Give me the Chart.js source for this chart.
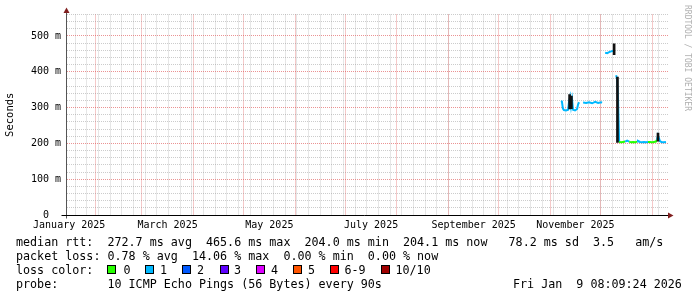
<!DOCTYPE html>
<html><head><meta charset="utf-8">
<script src="https://cdn.jsdelivr.net/npm/chart.js@4/dist/chart.umd.min.js"></script>
<style>
html,body{margin:0;padding:0;background:#fff;}
#wrap{position:relative;width:697px;height:297px;overflow:hidden;background:#fff;}
canvas{position:absolute;left:0;top:0;}
.t{position:absolute;font-family:"DejaVu Sans Mono",monospace;font-size:11.7px;line-height:14px;white-space:pre;color:#000;}
.sw{position:absolute;width:7px;height:7px;border:1px solid #000;top:265px;}
.wm{position:absolute;left:692px;top:5px;font-family:"DejaVu Sans Mono",monospace;font-size:8px;line-height:9px;color:#b0b0b0;transform-origin:0 0;transform:rotate(90deg);white-space:pre;}
</style></head>
<body><div id="wrap"><canvas id="c" width="697" height="297"></canvas>
<div class="t" style="left:16px;top:235px">median rtt:  272.7 ms avg  465.6 ms max  204.0 ms min  204.1 ms now   78.2 ms sd  3.5   am/s</div>
<div class="t" style="left:16px;top:249px">packet loss: 0.78 % avg  14.06 % max  0.00 % min  0.00 % now</div>
<div class="t" style="left:16px;top:263px">loss color:</div>
<div id="lossLegend"></div>
<div class="t" style="left:16px;top:277px">probe:       10 ICMP Echo Pings (56 Bytes) every 90s</div>
<div class="t" style="left:513px;top:277px">Fri Jan  9 08:09:24 2026</div>
<div class="wm">RRDTOOL / TOBI OETIKER</div>
</div>
<script>
// ---- data (x in days since 2025-01-01, y in milliseconds) ----
const medianDay = [310.3,310.9,311.5,312.1,313.4,314.6,315.2,315.8,316.4,317.0,317.6,318.8,320.0,320.6,321.2,322.4,
  323.6,325.4,327.2,329.0,330.8,332.6,334.4,335.0,335.9,
  336.8,338.0,339.2,340.4,341.6,342.2,342.8,
  343.4,344.0,344.6,
  345.2,346.4,347.6,348.8,350.0,351.2,352.4,353.6,354.8,356.0,356.5,357.7,358.9,360.1,361.3,362.5,
  363.7,364.9,366.1,367.3,367.9,368.5,369.1,369.7,370.9,372.1,373.3];
const medianMs = [318,317,297,293,292,294,318,330,304,322,294,292,296,309,315,null,
  314,313,315,312,316,313,315,314,null,
  453,452,455,457,458,462,null,
  390,379,316,
  204,203,204,205,208,205,203,204,203,205,207,204,203,204,203,204,
  204,203,204,205,210,222,214,206,203,203,204];
const lossCount = [1,1,1,1,1,1,1,1,1,1,1,1,1,1,1,1,
  1,1,1,1,1,1,1,1,1,
  1,1,1,1,1,1,1,
  1,1,1,
  0,0,0,1,1,0,0,0,0,1,1,1,1,1,1,0,
  0,0,0,0,1,1,1,1,1,1,1];
const smokeDay  = [315.5,316.6,342.2,344.2,368.5];
const smokeLow  = [296,297,448,203,206];
const smokeHigh = [336,332,478,385,229];

const monthStartDays = [31,59,90,120,151,181,212,243,273,304,334,365];
const labelDays = [15.5,74.5,135.5,196.5,258,319];
const labelNames = ['January 2025','March 2025','May 2025','July 2025','September 2025','November 2025'];
const firstMonday = 19;
const yMajorTicks = [0,100,200,300,400,500];
const yMax = 560, yMinorStep = 20;
const xMin = 14.2, xMax = 374.5;

const lossLevels = ['0','1','2','3','4','5','6-9','10/10'];
const lossColors = ['#26ff00','#00b8ff','#0059ff','#5e00ff','#dd00ff','#ff5500','#ff0000','#a00000'];
function colorForLoss(n){ if(n<=5) return lossColors[n]; if(n<10) return lossColors[6]; return lossColors[7]; }

// legend swatches
const swX = [107,145,182,220,256,293,330,381];
const swLabelX = [123.5,160,197,234,271,308,344.5,395.5];
const lg = document.getElementById('lossLegend');
lossLevels.forEach((lab,i)=>{
  const b=document.createElement('div'); b.className='sw'; b.style.left=swX[i]+'px'; b.style.background=lossColors[i]; lg.appendChild(b);
  const t=document.createElement('div'); t.className='t'; t.style.left=swLabelX[i]+'px'; t.style.top='263px'; t.textContent=lab; lg.appendChild(t);
});

const MONO = 'DejaVu Sans Mono';
const GRID = 'rgba(143,143,143,0.45)';
const MGRID = 'rgba(222,80,80,0.62)';

const weekTicks=[]; for(let d=firstMonday; d<=xMax; d+=7) weekTicks.push(d);
const yMinorTicks=[]; for(let v=yMinorStep; v<=yMax; v+=yMinorStep) if(v%100!==0) yMinorTicks.push(v);

const axisArrows = {
  id:'axisArrows',
  afterDraw(chart){
    const {ctx, chartArea:a} = chart;
    const y0 = Math.round(chart.scales.y.getPixelForValue(0)) + 0.5;
    const xL = Math.round(a.left) - 0.5;
    ctx.save();
    ctx.lineWidth = 1;
    ctx.strokeStyle = '#555';
    ctx.beginPath(); ctx.moveTo(xL, y0+3); ctx.lineTo(xL, a.top-2); ctx.stroke();
    ctx.strokeStyle = '#000';
    ctx.beginPath(); ctx.moveTo(xL-5, y0); ctx.lineTo(a.right, y0); ctx.stroke();
    ctx.fillStyle = '#801f1f';
    ctx.beginPath(); ctx.moveTo(xL-3, a.top-1.5); ctx.lineTo(xL, a.top-7); ctx.lineTo(xL+3, a.top-1.5); ctx.closePath(); ctx.fill();
    ctx.beginPath(); ctx.moveTo(a.right, y0-3); ctx.lineTo(a.right+5.5, y0); ctx.lineTo(a.right, y0+3); ctx.closePath(); ctx.fill();
    ctx.restore();
  }
};

new Chart(document.getElementById('c'), {
  type:'line',
  data:{
    datasets:[
      {
        type:'bar',
        order:0,
        data: smokeDay.map((d,i)=>({x:d, y:[smokeLow[i], smokeHigh[i]]})),
        backgroundColor:'#111',
        borderWidth:0,
        barThickness:2,
        xAxisID:'x', yAxisID:'y'
      },
      {
        type:'line',
        order:1,
        data: medianDay.map((d,i)=>({x:d, y:medianMs[i]})),
        borderWidth:2,
        pointRadius:0,
        tension:0,
        spanGaps:false,
        borderColor:colorForLoss(1),
        segment:{ borderColor: c => colorForLoss(lossCount[c.p0DataIndex]) },
        xAxisID:'x', yAxisID:'y'
      }
    ]
  },
  options:{
    responsive:false,
    animation:false,
    devicePixelRatio:1,
    layout:{padding:{left:0,right:29,top:14.5,bottom:0}},
    plugins:{legend:{display:false},tooltip:{enabled:false}},
    scales:{
      xWeek:{
        type:'linear', position:'bottom', min:xMin, max:xMax, offset:false,
        afterBuildTicks:s=>{s.ticks=weekTicks.map(v=>({value:v}));},
        ticks:{display:false},
        grid:{color:GRID, drawTicks:false, offset:false},
        border:{display:false, dash:[1,1]},
        afterFit:s=>{s.height=0;}
      },
      xMonth:{
        type:'linear', position:'bottom', min:xMin, max:xMax, offset:false,
        afterBuildTicks:s=>{s.ticks=monthStartDays.map(v=>({value:v}));},
        ticks:{display:false},
        grid:{color:MGRID, drawTicks:false, offset:false},
        border:{display:false, dash:[1,1]},
        afterFit:s=>{s.height=0;}
      },
      x:{
        type:'linear', position:'bottom', min:xMin, max:xMax, offset:false,
        afterBuildTicks:s=>{s.ticks=labelDays.map(v=>({value:v}));},
        ticks:{display:true, autoSkip:false, maxRotation:0, padding:4, color:'#000',
          font:{family:MONO,size:10},
          callback:(v,i)=>labelNames[i]},
        grid:{display:false, drawTicks:false, offset:false},
        border:{display:false},
        afterFit:s=>{s.height=82;}
      },
      yMinor:{
        type:'linear', position:'left', min:0, max:yMax,
        afterBuildTicks:s=>{s.ticks=yMinorTicks.map(v=>({value:v}));},
        ticks:{display:false},
        grid:{color:GRID, drawTicks:false},
        border:{display:false, dash:[1,1]},
        afterFit:s=>{s.width=0;}
      },
      y:{
        type:'linear', position:'left', min:0, max:yMax,
        afterBuildTicks:s=>{s.ticks=yMajorTicks.map(v=>({value:v}));},
        ticks:{padding:6, color:'#000', font:{family:MONO,size:10},
          callback:v=> v===0 ? '0  ' : v+' m'},
        grid:{color:MGRID, drawTicks:false},
        border:{display:false, dash:[1,1]},
        title:{display:true, text:'Seconds', color:'#000', font:{family:MONO,size:10.5}, padding:{top:4,bottom:0}},
        afterFit:s=>{s.width=67;}
      }
    }
  },
  plugins:[axisArrows]
});
</script>
</body></html>
